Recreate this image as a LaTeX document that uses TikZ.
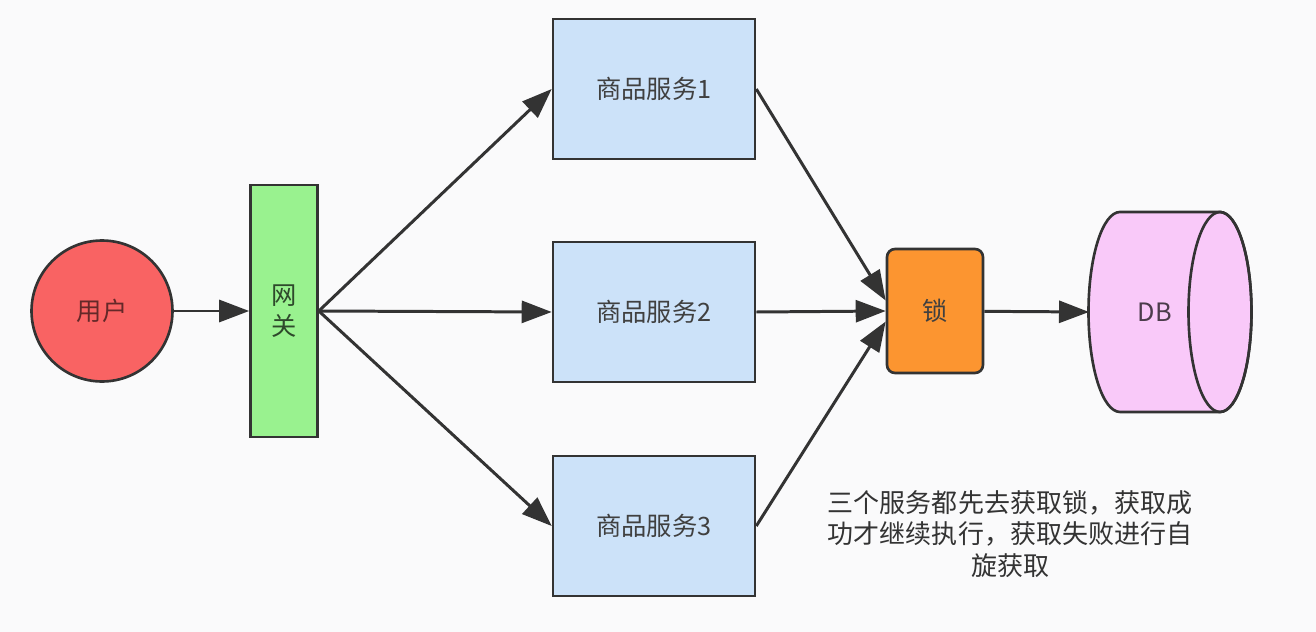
\documentclass[tikz,border=0pt]{standalone}
\usepackage{fontspec}
\setmainfont{Noto Sans CJK SC}
\usepackage{tikz}
\usetikzlibrary{arrows.meta}
\definecolor{userred}{HTML}{F96363}
\definecolor{gwgreen}{HTML}{99F28F}
\definecolor{svcblue}{HTML}{CCE2F9}
\definecolor{lockorange}{HTML}{FC9530}
\definecolor{dbpink}{HTML}{F9C9F9}
\definecolor{edgegray}{HTML}{333333}
\definecolor{bggray}{HTML}{FAFAFB}

\begin{document}
\begin{tikzpicture}[x=0.02cm,y=-0.02cm,
  box/.style={draw=edgegray,line width=1.5pt,inner sep=0pt,font=\fontsize{14.4}{17.6}\selectfont,text=black!75},
  svc/.style={box,fill=svcblue,minimum width=4.04cm,minimum height=2.8cm},
  flow/.style={draw=edgegray,line width=1.7pt,-{Triangle[length=0.6cm,width=0.44cm]}}]
  \fill[bggray] (0,0) rectangle (1316,632);
  \node[box,circle,fill=userred,minimum size=2.82cm,text=userred!40!black] (user) at (102,311) {用户};
  \node[box,fill=gwgreen,minimum width=1.34cm,minimum height=5.04cm,align=center,text=gwgreen!30!black] (gw) at (284,311) {网\\关};
  \node[svc] (s1) at (654,89) {商品服务1};
  \node[svc] (s2) at (654,312) {商品服务2};
  \node[svc] (s3) at (654,526) {商品服务3};
  \node[box,fill=lockorange,rounded corners=0.16cm,minimum width=1.92cm,minimum height=2.48cm] (lock) at (935,311) {锁};
  % DB cylinder
  \filldraw[fill=dbpink,draw=edgegray,line width=1.5pt] (1220,212) -- (1120,212)
    arc[start angle=90,end angle=270,x radius=0.63cm,y radius=2cm] -- (1220,412)
    arc[start angle=-90,end angle=90,x radius=0.63cm,y radius=2cm] -- cycle;
  \draw[edgegray,line width=1.5pt] (1220,312) ellipse[x radius=0.63cm,y radius=2cm];
  \node[font=\fontsize{14.4}{17.6}\selectfont,text=dbpink!30!black] (db) at (1155,312) {DB};
  \coordinate (dbin) at (1089,312);
  \node[align=center,font=\fontsize{14.8}{18}\selectfont,text=black!80] (note) at (1010,534) {三个服务都先去获取锁，获取成\\功才继续执行，获取失败进行自\\旋获取};
  \draw[flow] (user) -- (gw);
  \foreach \s in {s1,s2,s3} \draw[flow] (gw.east) -- (\s.west);
  \draw[flow] (s1.east) -- (lock.168);
  \draw[flow] (s2.east) -- (lock.west);
  \draw[flow] (s3.east) -- (lock.192);
  \draw[flow] (lock) -- (dbin);
\end{tikzpicture}
\end{document}
